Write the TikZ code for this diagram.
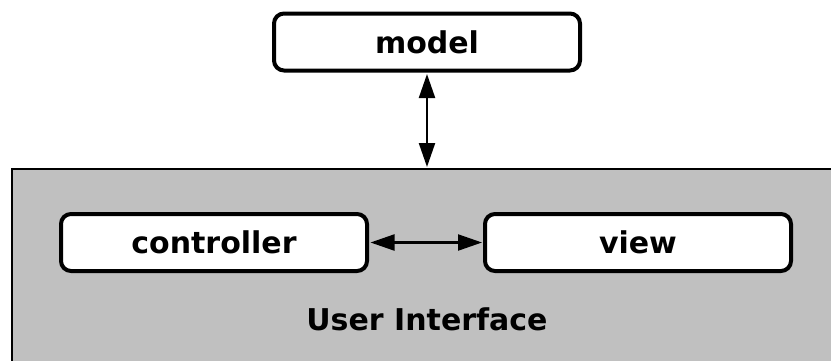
\documentclass[tikz,border=0pt]{standalone}
\usepackage{fontspec}
\setmainfont{DejaVu Sans}
\usetikzlibrary{arrows.meta}
\definecolor{uigray}{RGB}{192,192,192}
\tikzset{
  part/.style={draw=black, fill=white, line width=4pt, rounded corners=10pt,
    minimum width=306pt, minimum height=57pt, inner sep=0pt,
    font=\fontsize{30}{36}\selectfont\bfseries},
  uibox/.style={draw=black, fill=uigray, line width=2pt, inner sep=0pt,
    minimum width=840pt, minimum height=220pt, anchor=north west},
  link/.style={line width=2.2pt, {Triangle[length=24pt,width=16pt]}-{Triangle[length=24pt,width=16pt]},
    shorten <=1.5pt, shorten >=1pt},
  caption/.style={font=\fontsize{30}{36}\selectfont\bfseries}
}
\begin{document}
\begin{tikzpicture}[x=1pt,y=-1pt]
  \useasboundingbox (0,0) rectangle (831,360);
  \clip (0,0) rectangle (831,360);
  \fill[white] (0,0) rectangle (831,360);
  % user interface panel, running off the right and bottom edges
  \node[uibox] (ui) at (11,168) {};
  \node[caption] (uilabel) at (427,319) {User Interface};
  % components
  \node[part] (model) at (427,42) {model};
  \node[part] (controller) at (214,242.5) {controller};
  \node[part] (view) at (638,242.5) {view};
  % connectors
  \coordinate (uitop) at (model.south |- ui.north);
  \draw[link] (model.south) -- (uitop);
  \draw[link] (controller.east) -- (view.west);
\end{tikzpicture}
\end{document}
